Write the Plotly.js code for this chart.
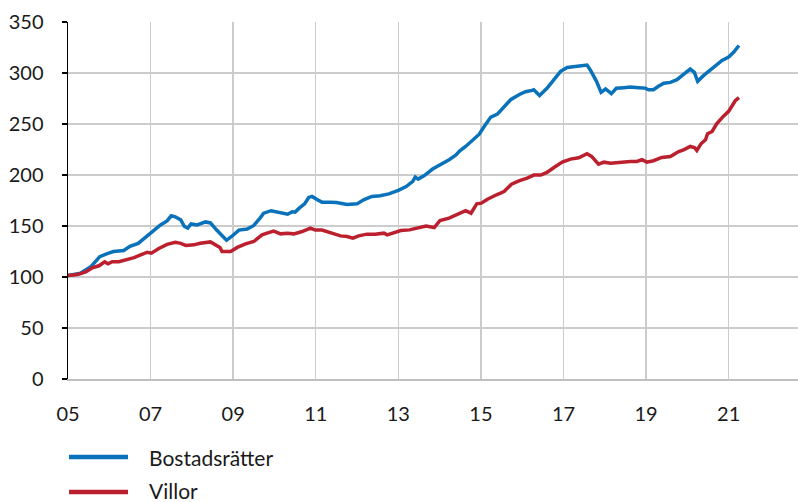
<!DOCTYPE html>
<html>
<head>
<meta charset="utf-8">
<script src="https://cdn.plot.ly/plotly-3.0.1.min.js"></script>
<style>html,body{margin:0;padding:0;background:#fff;}#chart{width:798px;height:502px;}</style>
</head>
<body>
<div id="chart"></div>
<script>
// Tick labels
const tickYears = [2005, 2007, 2009, 2011, 2013, 2015, 2017, 2019, 2021];
const tickLabels = ["05", "07", "09", "11", "13", "15", "17", "19", "21"];
const seriesNames = ["Bostadsrätter", "Villor"];

// Bostadsrätter (decimal year, index value)
const bostadYears = [2005.0,2005.3,2005.55,2005.77,2005.95,2006.1,2006.35,2006.5,2006.7,2007.0,2007.24,2007.4,2007.5,2007.6,2007.73,2007.82,2007.9,2007.98,2008.13,2008.33,2008.45,2008.6,2008.73,2008.84,2008.97,2009.14,2009.34,2009.5,2009.65,2009.74,2009.92,2010.06,2010.23,2010.32,2010.43,2010.5,2010.6,2010.73,2010.83,2010.91,2011.03,2011.15,2011.35,2011.5,2011.76,2012.0,2012.16,2012.36,2012.56,2012.77,2013.0,2013.19,2013.35,2013.41,2013.48,2013.63,2013.83,2014.03,2014.23,2014.39,2014.49,2014.63,2014.8,2014.96,2015.08,2015.24,2015.4,2015.56,2015.72,2015.92,2016.08,2016.24,2016.28,2016.42,2016.6,2016.77,2016.93,2017.09,2017.29,2017.45,2017.57,2017.65,2017.8,2017.91,2018.02,2018.16,2018.28,2018.46,2018.62,2018.82,2018.98,2019.06,2019.18,2019.3,2019.43,2019.59,2019.75,2019.9,2020.07,2020.17,2020.25,2020.39,2020.55,2020.67,2020.84,2021.0,2021.12,2021.25];
const bostadValues = [101.5,103.7,110,120,123,125,126,130,133,143,151,155,160,159,156,149.5,148,152,151,154,153,146,140,136,140,146,147,150.5,157.7,162.6,165,164,162.6,161.6,164,163.6,167.5,171.7,178,179,176,173.4,173.4,173,171,171.7,175.7,179,179.6,181.5,185,188.7,193.7,198,196,199.5,205.8,210,215,219.5,223.7,228,234.5,240,247.6,256.8,259.7,266.6,273.8,278.7,281.6,283,283.6,278,285,293.4,301.6,305.5,306.8,307,307.8,303,291.8,281,284.3,279.7,285,285.6,286.2,285.6,285.2,283.6,283.6,287,290,290.8,293.4,298.3,303.9,300.6,291.8,297.4,302.6,306.5,312.4,315.7,320.3,327];

// Villor (decimal year, index value)
const villorYears = [2005.0,2005.23,2005.43,2005.59,2005.75,2005.89,2005.97,2006.07,2006.23,2006.4,2006.6,2006.76,2006.92,2007.02,2007.2,2007.4,2007.6,2007.73,2007.85,2008.05,2008.2,2008.45,2008.57,2008.68,2008.73,2008.94,2009.1,2009.3,2009.5,2009.7,2009.82,2009.98,2010.15,2010.31,2010.47,2010.67,2010.87,2010.99,2011.15,2011.31,2011.44,2011.6,2011.76,2011.9,2012.04,2012.24,2012.44,2012.65,2012.73,2012.85,2013.06,2013.27,2013.47,2013.67,2013.87,2014.01,2014.23,2014.43,2014.63,2014.76,2014.9,2015.01,2015.16,2015.38,2015.56,2015.74,2015.92,2016.12,2016.28,2016.45,2016.6,2016.77,2016.97,2017.17,2017.37,2017.57,2017.68,2017.85,2017.98,2018.14,2018.38,2018.62,2018.78,2018.9,2019.02,2019.18,2019.38,2019.59,2019.79,2019.91,2020.07,2020.17,2020.23,2020.33,2020.44,2020.49,2020.6,2020.71,2020.87,2021.0,2021.1,2021.16,2021.25];
const villorValues = [101.5,102.4,105,109,111,114.8,112.9,115,115,116.8,119,121.7,124.3,123.3,128,132,134,133,131,131.5,133,134.4,131.5,129,125,125,129,132.5,134.8,141.3,143,145,142.3,143,142.3,144.6,147.9,146,146,144,143,140.3,139.7,138,140.3,142,142,143,141.3,143,145.6,146.2,148.2,150,148.5,155.4,157.7,161,165,162.6,171.7,172.4,176.3,180.6,183.8,191,194.3,197,199.9,199.9,202.5,207.4,212.6,215.6,216.9,220.8,218.2,210.7,212.6,211.6,212.6,213.3,213.3,215,212.6,214,217.2,218.2,223,224.7,228,227,224,230.6,234.5,240.4,242.7,250.2,257.4,262.4,268.9,272.8,275.8];

const blue = "#0a72ba";
const red = "#bc1f2e";
const font = "Lato, 'Open Sans', sans-serif";

const traces = [
  {x: bostadYears, y: bostadValues, name: seriesNames[0], type: "scatter", mode: "lines",
   line: {color: blue, width: 3.5}, showlegend: false},
  {x: villorYears, y: villorValues, name: seriesNames[1], type: "scatter", mode: "lines",
   line: {color: red, width: 3.5}, showlegend: false}
];

// legend rows (paper coords: plot spans y 22..379 px)
const legY = [-0.2185, -0.3165];
const legTextY = [-0.2185, -0.3110];
const layout = {
  width: 798, height: 502,
  margin: {l: 68, r: 0, t: 22, b: 123},
  paper_bgcolor: "#ffffff", plot_bgcolor: "#ffffff",
  font: {family: font, size: 20, color: "#1a1a1a"},
  xaxis: {
    range: [2005, 2022.68],
    tickvals: tickYears, ticktext: tickLabels,
    showgrid: true, gridcolor: "#cccccc", gridwidth: 1.5,
    showline: true, linecolor: "#bfbfbf", linewidth: 2,
    ticks: "", ticklabelstandoff: 16,
    zeroline: false, fixedrange: true
  },
  yaxis: {
    range: [0, 350],
    tickvals: [0, 50, 100, 150, 200, 250, 300, 350],
    showgrid: true, gridcolor: "#cccccc", gridwidth: 1.5,
    showline: true, linecolor: "#000000", linewidth: 1.5,
    ticks: "outside", ticklen: 5, tickcolor: "#000000", tickwidth: 1.5,
    ticklabelstandoff: 14,
    zeroline: false, fixedrange: true
  },
  shapes: [
    {type: "line", xref: "paper", yref: "paper", x0: 0.0014, x1: 0.0822, y0: legY[0], y1: legY[0],
     line: {color: blue, width: 4.5}},
    {type: "line", xref: "paper", yref: "paper", x0: 0.0014, x1: 0.0822, y0: legY[1], y1: legY[1],
     line: {color: red, width: 4.5}}
  ],
  annotations: [
    {xref: "paper", yref: "paper", x: 0.1095, y: legTextY[0], xanchor: "left", yanchor: "middle",
     text: seriesNames[0], showarrow: false, borderpad: 0, font: {family: font, size: 21, color: "#1a1a1a"}},
    {xref: "paper", yref: "paper", x: 0.1095, y: legTextY[1], xanchor: "left", yanchor: "middle",
     text: seriesNames[1], showarrow: false, borderpad: 0, font: {family: font, size: 21, color: "#1a1a1a"}}
  ]
};

Plotly.newPlot("chart", traces, layout, {displayModeBar: false, staticPlot: true});
</script>
</body>
</html>
